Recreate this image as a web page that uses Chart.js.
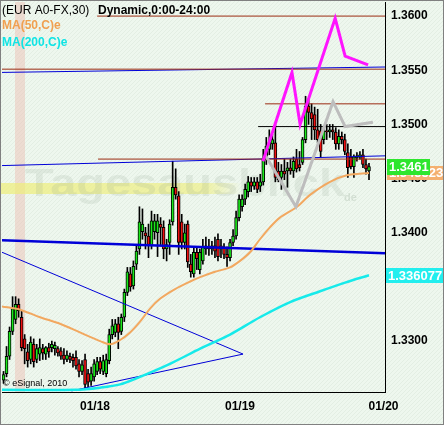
<!DOCTYPE html>
<html>
<head>
<meta charset="utf-8">
<title>EUR A0-FX,30</title>
<script src="https://cdn.jsdelivr.net/npm/chart.js@4.4.1/dist/chart.umd.min.js"></script>
<style>
  html, body { margin: 0; padding: 0; background: #eef7ee; }
  canvas { display: block; }
</style>
</head>
<body>
<canvas id="chart" width="444" height="425"></canvas>
<script>
// 30 minute candles, x = bar number (0 = first bar on the chart)
const opens = [
  1.3264,1.3270,1.3286,1.3309,1.3320,1.3334,1.3322,1.3302,1.3290,1.3283,
  1.3297,1.3283,1.3288,1.3293,1.3288,1.3294,1.3294,1.3293,1.3293,1.3291,
  1.3287,1.3283,1.3286,1.3285,1.3285,1.3279,1.3272,1.3283,1.3270,1.3263,
  1.3267,1.3272,1.3281,1.3272,1.3270,1.3282,1.3306,1.3308,1.3316,1.3309,
  1.3322,1.3345,1.3362,1.3351,1.3371,1.3385,1.3401,1.3400,1.3397,1.3388,
  1.3401,1.3400,1.3408,1.3405,1.3385,1.3391,1.3410,1.3442,1.3434,1.3410,
  1.3391,1.3408,1.3371,1.3362,1.3382,1.3366,1.3374,1.3385,1.3387,1.3385,
  1.3388,1.3394,1.3388,1.3387,1.3380,1.3377,1.3391,1.3397,1.3414,1.3424,
  1.3431,1.3438,1.3447,1.3443,1.3447,1.3443,1.3447,1.3468,1.3477,1.3482,
  1.3483,1.3457,1.3451,1.3457,1.3457,1.3460,1.3457,1.3468,1.3463,1.3465,
  1.3486,1.3517,1.3511,1.3509,1.3495,1.3494,1.3486,1.3494,1.3493,1.3495,
  1.3493,1.3482,1.3489,1.3486,1.3474,1.3470,1.3461,1.3469,1.3470,1.3472,
  1.3463,1.3457
];
const highs = [
  1.3272,1.3295,1.3313,1.3341,1.3341,1.3339,1.3328,1.3306,1.3297,1.3304,
  1.3302,1.3297,1.3302,1.3297,1.3295,1.3298,1.3300,1.3299,1.3295,1.3294,
  1.3293,1.3291,1.3289,1.3288,1.3291,1.3283,1.3282,1.3288,1.3274,1.3276,
  1.3283,1.3285,1.3285,1.3287,1.3288,1.3311,1.3320,1.3320,1.3322,1.3325,
  1.3348,1.3368,1.3368,1.3374,1.3389,1.3424,1.3422,1.3405,1.3408,1.3420,
  1.3417,1.3417,1.3414,1.3411,1.3394,1.3412,1.3466,1.3459,1.3438,1.3417,
  1.3408,1.3411,1.3380,1.3387,1.3387,1.3385,1.3394,1.3396,1.3394,1.3392,
  1.3396,1.3399,1.3394,1.3390,1.3387,1.3394,1.3403,1.3420,1.3435,1.3435,
  1.3445,1.3452,1.3451,1.3451,1.3451,1.3454,1.3477,1.3488,1.3495,1.3491,
  1.3500,1.3465,1.3463,1.3468,1.3465,1.3468,1.3470,1.3477,1.3475,1.3488,
  1.3526,1.3523,1.3519,1.3516,1.3514,1.3500,1.3497,1.3500,1.3500,1.3500,
  1.3497,1.3495,1.3493,1.3491,1.3482,1.3477,1.3472,1.3474,1.3475,1.3477,
  1.3468,1.3464
];
const lows = [
  1.3261,1.3267,1.3283,1.3306,1.3316,1.3322,1.3291,1.3279,1.3276,1.3279,
  1.3276,1.3280,1.3282,1.3283,1.3283,1.3285,1.3290,1.3287,1.3286,1.3283,
  1.3279,1.3281,1.3280,1.3276,1.3274,1.3267,1.3269,1.3256,1.3258,1.3259,
  1.3263,1.3269,1.3270,1.3269,1.3267,1.3279,1.3302,1.3304,1.3293,1.3306,
  1.3318,1.3342,1.3346,1.3348,1.3366,1.3380,1.3394,1.3385,1.3377,1.3385,
  1.3394,1.3378,1.3389,1.3376,1.3374,1.3380,1.3407,1.3431,1.3380,1.3385,
  1.3385,1.3368,1.3359,1.3359,1.3366,1.3362,1.3371,1.3380,1.3379,1.3380,
  1.3377,1.3374,1.3377,1.3376,1.3369,1.3374,1.3388,1.3394,1.3411,1.3420,
  1.3426,1.3433,1.3438,1.3440,1.3437,1.3438,1.3444,1.3463,1.3472,1.3477,
  1.3447,1.3447,1.3440,1.3449,1.3442,1.3454,1.3451,1.3456,1.3457,1.3463,
  1.3483,1.3500,1.3486,1.3486,1.3483,1.3470,1.3482,1.3486,1.3488,1.3486,
  1.3477,1.3477,1.3482,1.3472,1.3451,1.3459,1.3451,1.3466,1.3468,1.3460,
  1.3454,1.3449
];
const closes = [
  1.3269,1.3286,1.3309,1.3330,1.3334,1.3328,1.3294,1.3293,1.3282,1.3299,
  1.3281,1.3293,1.3294,1.3289,1.3294,1.3290,1.3297,1.3296,1.3289,1.3286,
  1.3283,1.3287,1.3283,1.3282,1.3277,1.3272,1.3278,1.3260,1.3262,1.3270,
  1.3279,1.3281,1.3274,1.3282,1.3283,1.3306,1.3314,1.3316,1.3308,1.3322,
  1.3345,1.3364,1.3350,1.3369,1.3383,1.3410,1.3408,1.3397,1.3388,1.3411,
  1.3411,1.3411,1.3405,1.3385,1.3389,1.3408,1.3442,1.3435,1.3391,1.3391,
  1.3400,1.3373,1.3364,1.3382,1.3376,1.3382,1.3387,1.3388,1.3385,1.3388,
  1.3383,1.3378,1.3385,1.3380,1.3377,1.3391,1.3397,1.3414,1.3431,1.3431,
  1.3440,1.3447,1.3443,1.3447,1.3440,1.3447,1.3468,1.3480,1.3484,1.3486,
  1.3451,1.3449,1.3457,1.3454,1.3460,1.3457,1.3466,1.3459,1.3460,1.3486,
  1.3517,1.3511,1.3505,1.3495,1.3486,1.3475,1.3494,1.3493,1.3495,1.3493,
  1.3482,1.3489,1.3486,1.3475,1.3460,1.3461,1.3470,1.3471,1.3472,1.3463,
  1.3459,1.3461
];

// axis ticks
const dayTicks = [30.3, 78.3, 125.8];
const dayLabels = ['01/18', '01/19', '01/20'];
const priceTicks = [1.3600, 1.3550, 1.3500, 1.3450, 1.3400, 1.3300];

// MA(50) and MA(200), read at a few bars
const ma50X = [-0.5, 5.5, 12.1, 18.7, 25.3, 32.0, 35.3, 38.6, 41.9, 45.2, 48.5, 51.8, 56.8, 61.8, 65.1, 70.0, 75.0, 78.3, 81.6, 84.9, 88.2, 91.5, 97.2, 101.5, 108.1, 113.7, 121];
const ma50Y = [1.3332, 1.3329, 1.3322, 1.3316, 1.3308, 1.3300, 1.3297, 1.3301, 1.3308, 1.3318, 1.3330, 1.3339, 1.3348, 1.3355, 1.3359, 1.3364, 1.3368, 1.3374, 1.3382, 1.3394, 1.3405, 1.3414, 1.3424, 1.3435, 1.3447, 1.3453, 1.345523];
const ma200X = [-0.5, 23.7, 32.0, 38.6, 45.2, 55.1, 65.1, 75.0, 84.9, 94.9, 104.8, 113.1, 121];
const ma200Y = [1.3255, 1.3255, 1.3257, 1.3260, 1.3267, 1.3279, 1.3293, 1.3306, 1.3322, 1.3336, 1.3346, 1.3354, 1.336077];

// hand drawn lines
const magentaX = [85.9, 95.5, 98.2, 109.8, 113.1, 120.7];
const magentaY = [1.3466, 1.3548, 1.3500, 1.3598, 1.3563, 1.3555];
const greyX = [86.6, 96.8, 109.1, 113.1, 122.3];
const greyY = [1.3472, 1.3424, 1.3521, 1.3498, 1.3502];
const levelPrices = [1.3600, 1.3551, 1.3519, 1.3498, 1.3468];
const levelFrom = [31.0, -0.5, 86.6, 84.3, 31.3];
const trendFromX = [-0.5, 22.5, -0.5, -0.5, -0.5];
const trendFromY = [1.3382, 1.3254, 1.3393, 1.3462, 1.3548];
const trendToX = [79.3, 79.3, 126.3, 126.3, 126.3];
const trendToY = [1.3288, 1.3288, 1.3381, 1.3471, 1.3553];

// shaded session (bars)
const sessionBand = [3.8, 7.1];

const xMin = -0.5, xMax = 126.3;
const yMin = 1.3253, yMax = 1.3613;

const FONT = '"Liberation Sans", Arial, sans-serif';
Chart.defaults.font.family = FONT;

const pts = (xs, ys) => xs.map((x, i) => ({ x: x, y: ys[i] }));

const datasets = [];

// wicks then bodies
datasets.push({
  label: 'wick',
  data: closes.map((c, i) => ({ x: i, y: [lows[i], highs[i]] })),
  backgroundColor: '#000',
  barThickness: 1,
  grouped: false,
  order: 5
});
datasets.push({
  label: 'body',
  data: closes.map((c, i) => ({ x: i, y: [opens[i], c] })),
  backgroundColor: closes.map((c, i) => c >= opens[i] ? '#1be81b' : '#ee1111'),
  borderColor: '#000',
  borderWidth: 1,
  borderSkipped: false,
  barThickness: 3,
  minBarLength: 1,
  grouped: false,
  order: 4
});

// horizontal levels
const levelColors = ['#9b2b12', '#9b2b12', '#9b2b12', '#000000', '#9b2b12'];
levelPrices.forEach((p, k) => {
  datasets.push({
    type: 'line', data: pts([levelFrom[k], xMax], [p, p]),
    borderColor: levelColors[k], borderWidth: 1, pointRadius: 0, order: 3
  });
});

// blue trend lines
const trendWidths = [1, 1, 2.5, 1, 1];
trendFromX.forEach((x0, k) => {
  datasets.push({
    type: 'line', data: pts([x0, trendToX[k]], [trendFromY[k], trendToY[k]]),
    borderColor: '#0000d8', borderWidth: trendWidths[k], pointRadius: 0, order: 3
  });
});

datasets.push({
  type: 'line', data: pts(ma50X, ma50Y), borderColor: '#f2a860',
  borderWidth: 2, pointRadius: 0, tension: 0.3, order: 2
});
datasets.push({
  type: 'line', data: pts(ma200X, ma200Y), borderColor: '#16eaea',
  borderWidth: 2.5, pointRadius: 0, tension: 0.3, order: 2
});
datasets.push({
  type: 'line', data: pts(greyX, greyY), borderColor: '#bdbdbd',
  borderWidth: 3, pointRadius: 0, order: 1
});
datasets.push({
  type: 'line', data: pts(magentaX, magentaY), borderColor: '#ff14ff',
  borderWidth: 3, pointRadius: 0, order: 0
});

// background hatch
function hatchPattern(ctx) {
  const c = document.createElement('canvas');
  c.width = 4; c.height = 4;
  const g = c.getContext('2d');
  g.fillStyle = '#eef7ee';
  g.fillRect(0, 0, 4, 4);
  g.fillStyle = '#e3eee3';
  for (let i = 0; i < 4; i++) g.fillRect(i, 3 - i, 1, 1);
  return ctx.createPattern(c, 'repeat');
}

function tag(ctx, y, text, fill, x0, w, h) {
  ctx.fillStyle = fill;
  ctx.fillRect(x0, Math.round(y - h / 2), w, h);
  ctx.fillStyle = '#fff';
  ctx.textAlign = 'left';
  ctx.textBaseline = 'middle';
  ctx.fillText(text, x0 + 2, y + 1);
}

const decor = {
  id: 'decor',
  beforeDraw(chart) {
    const { ctx, chartArea: a, scales: { x } } = chart;
    ctx.save();
    ctx.fillStyle = hatchPattern(ctx);
    ctx.fillRect(0, 0, chart.width, chart.height);
    const b0 = x.getPixelForValue(sessionBand[0]);
    const b1 = x.getPixelForValue(sessionBand[1]);
    ctx.fillStyle = 'rgba(236,186,176,0.45)';
    ctx.fillRect(b0, a.top, b1 - b0, a.bottom - a.top);
    ctx.restore();
  },
  beforeDatasetsDraw(chart) {
    const { ctx, chartArea: a } = chart;
    ctx.save();
    // watermark
    const grad = ctx.createLinearGradient(a.left, 0, a.left + 240, 0);
    grad.addColorStop(0, 'rgba(238,238,120,0.7)');
    grad.addColorStop(0.85, 'rgba(238,238,120,0.6)');
    grad.addColorStop(1, 'rgba(238,238,120,0)');
    ctx.fillStyle = grad;
    ctx.fillRect(a.left - 2, 183, 242, 11);
    ctx.font = 'bold 38px ' + FONT;
    ctx.textBaseline = 'alphabetic';
    ctx.fillStyle = 'rgba(140,160,140,0.16)';
    const w = ctx.measureText('Tagesausblick').width;
    ctx.translate(25, 196);
    ctx.scale(320 / w, 1);
    ctx.fillText('Tagesausblick', 0, 0);
    ctx.restore();
    ctx.save();
    ctx.font = 'bold 11px ' + FONT;
    ctx.fillStyle = 'rgba(140,160,140,0.25)';
    ctx.fillText('de', 344, 201);
    ctx.restore();
  },
  afterDraw(chart) {
    const { ctx, scales: { y } } = chart;
    ctx.save();
    ctx.textBaseline = 'middle';
    ctx.textAlign = 'left';
    ctx.font = '12px ' + FONT;
    ctx.fillStyle = '#000';
    ctx.fillText('(EUR A0-FX,30)', 2, 11);
    ctx.font = 'bold 12px ' + FONT;
    ctx.fillText('Dynamic,0:00-24:00', 98, 11);
    ctx.fillStyle = '#f0a050';
    ctx.fillText('MA(50,C)e', 2, 26);
    ctx.fillStyle = '#10e4e4';
    ctx.fillText('MA(200,C)e', 2, 43);
    ctx.font = '9px ' + FONT;
    ctx.fillStyle = '#000';
    ctx.fillText('\u00a9 eSignal, 2010', 3, 384);

    // last value tags
    ctx.font = 'bold 13px ' + FONT;
    tag(ctx, y.getPixelForValue(lastMa200()), lastMa200().toFixed(6), '#22eeee', 386, 58, 15);
    tag(ctx, y.getPixelForValue(ma50Y[ma50Y.length - 1]), ma50Y[ma50Y.length - 1].toFixed(6), '#f4b070', 387, 57, 14);
    tag(ctx, y.getPixelForValue(closes[closes.length - 1]), closes[closes.length - 1].toFixed(4), '#2ee62e', 387, 43, 16);

    // frame
    ctx.strokeStyle = '#808080';
    ctx.lineWidth = 1;
    ctx.strokeRect(0.5, 0.5, chart.width - 1, chart.height - 1);
    ctx.restore();
  }
};
function lastMa200() { return ma200Y[ma200Y.length - 1]; }

new Chart(document.getElementById('chart'), {
  type: 'bar',
  data: { datasets: datasets },
  options: {
    responsive: false,
    animation: false,
    devicePixelRatio: 1,
    layout: { padding: { left: 2, top: 2, right: 0, bottom: 0 } },
    plugins: { legend: { display: false }, tooltip: { enabled: false } },
    scales: {
      x: {
        type: 'linear', min: xMin, max: xMax, offset: false, bounds: 'data',
        grid: { display: false, drawTicks: false },
        border: { display: true, color: '#000', width: 1 },
        ticks: {
          autoSkip: false, maxRotation: 0, padding: 7, color: '#000',
          font: { size: 12, weight: 'bold' },
          callback: (v, i) => dayLabels[i]
        },
        afterBuildTicks: s => { s.ticks = dayTicks.map(v => ({ value: v })); },
        afterFit: s => { s.height = 33; s.paddingLeft = 0; s.paddingRight = 0; }
      },
      y: {
        type: 'linear', position: 'right', min: yMin, max: yMax, bounds: 'data',
        grid: { display: false, drawTicks: false },
        border: { display: true, color: '#000', width: 1 },
        ticks: {
          autoSkip: false, padding: 6, color: '#000',
          font: { size: 12, weight: 'bold' },
          callback: v => v.toFixed(4)
        },
        afterBuildTicks: s => { s.ticks = priceTicks.map(v => ({ value: v })); },
        afterFit: s => { s.width = 59; s.paddingTop = 0; s.paddingBottom = 0; }
      }
    }
  },
  plugins: [decor]
});
</script>
</body>
</html>
